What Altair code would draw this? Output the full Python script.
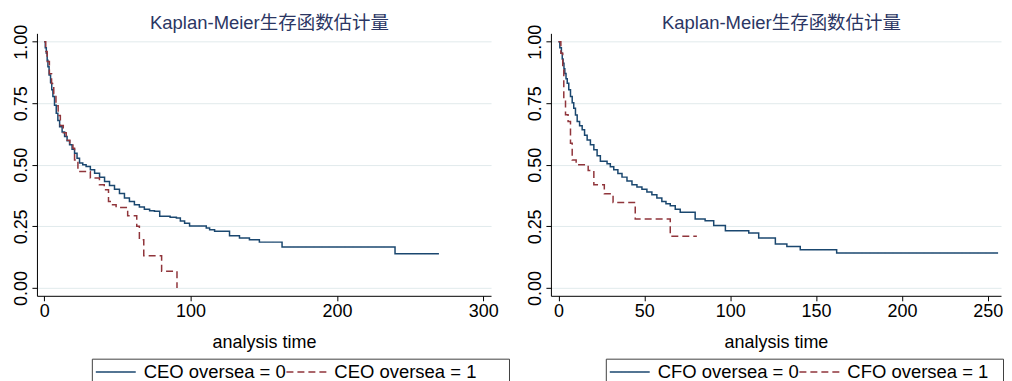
import altair as alt
import pandas as pd

# ---------------- data ----------------
TITLE = "Kaplan-Meier生存函数估计量"
X_TITLE = "analysis time"
Y_TICKS = [0.0, 0.25, 0.5, 0.75, 1.0]

left_labels = ["CEO oversea = 0", "CEO oversea = 1"]
right_labels = ["CFO oversea = 0", "CFO oversea = 1"]
left_xticks = [0, 100, 200, 300]
right_xticks = [0, 50, 100, 150, 200, 250]

# CEO oversea = 0
ceo0_t = [0, 0.7, 1.4, 2.0, 2.5, 3.3, 4.3, 5.1, 5.9, 7.0, 8.2, 9.3, 10.5, 12.2, 13.9,
          15.6, 17.3, 19.0, 20.7, 22.4, 24.1, 26.3, 28.6, 31.5, 34.4, 37.8, 41.2, 44.6,
          48.0, 51.4, 54.8, 58.2, 61.6, 65.0, 68.4, 72.0, 75.3, 78.9, 86.0, 90.3, 93.0,
          95.9, 99.3, 110.7, 113.0, 116.4, 126.6, 133.4, 140.2, 147.0, 162.5, 239.7, 269.7]
ceo0_s = [1.0, 0.975, 0.953, 0.925, 0.898, 0.865, 0.831, 0.805, 0.777, 0.742, 0.709, 0.680,
          0.655, 0.633, 0.615, 0.598, 0.581, 0.563, 0.547, 0.527, 0.507, 0.500, 0.493, 0.480,
          0.466, 0.449, 0.432, 0.416, 0.401, 0.383, 0.365, 0.351, 0.338, 0.329, 0.320, 0.313,
          0.311, 0.291, 0.287, 0.284, 0.272, 0.263, 0.251, 0.243, 0.236, 0.230, 0.212, 0.203,
          0.196, 0.186, 0.166, 0.139, 0.139]
# CEO oversea = 1
ceo1_t = [0, 1.0, 2.0, 3.5, 5.0, 6.5, 8.0, 9.5, 11.0, 13.0, 15.0, 17.5, 19.6, 20.7, 23.0,
          31.5, 37.7, 41.0, 43.9, 46.1, 49.1, 57.0, 63.2, 65.0, 68.0, 80.2, 90.7]
ceo1_s = [1.0, 0.960, 0.920, 0.870, 0.830, 0.790, 0.740, 0.700, 0.660, 0.630, 0.600, 0.580,
          0.567, 0.520, 0.473, 0.446, 0.419, 0.399, 0.351, 0.338, 0.327, 0.293, 0.250, 0.196,
          0.131, 0.068, 0.0]
# CFO oversea = 0
cfo0_t = [0, 0.8, 1.7, 2.2, 2.7, 3.2, 3.7, 4.4, 5.1, 6.0, 7.0, 8.0, 8.9, 9.9, 10.9, 12.3,
          13.8, 15.2, 16.7, 18.6, 20.6, 22.5, 24.4, 28.3, 30.2, 32.2, 34.6, 37.0, 39.9, 42.8,
          45.7, 48.6, 51.5, 54.4, 57.3, 60.2, 62.6, 65.1, 68.0, 70.9, 79.6, 85.4, 90.4, 97.2,
          110.8, 116.6, 126.3, 133.0, 140.8, 162.0, 256.0]
cfo0_s = [1.0, 0.975, 0.953, 0.930, 0.912, 0.890, 0.871, 0.850, 0.831, 0.805, 0.777, 0.752,
          0.730, 0.702, 0.676, 0.659, 0.642, 0.620, 0.601, 0.581, 0.561, 0.537, 0.514, 0.504,
          0.492, 0.480, 0.465, 0.450, 0.434, 0.419, 0.410, 0.401, 0.390, 0.378, 0.365, 0.351,
          0.342, 0.334, 0.320, 0.307, 0.280, 0.273, 0.254, 0.232, 0.223, 0.203, 0.178, 0.168,
          0.155, 0.142, 0.142]
# CFO oversea = 1
cfo1_t = [0, 1.4, 2.5, 3.1, 4.1, 5.6, 7.0, 8.0, 10.3, 17.3, 20.6, 26.7, 31.8, 44.7, 65.1, 80.6]
cfo1_s = [1.0, 0.953, 0.885, 0.770, 0.703, 0.676, 0.588, 0.520, 0.500, 0.477, 0.419, 0.382,
          0.347, 0.280, 0.210, 0.210]

# ---------------- styling ----------------
FONT = "Liberation Sans"
TITLE_FONT = "Liberation Sans, Noto Sans CJK SC"
BLUE = "#1a476f"
RED = "#90353b"
GRID = "#e1eaec"
# 40px sample line starting at the left edge of each legend entry (symbolSize 256)
LINE_SYMBOL = "M-1.15625,0L3.84375,0"


def frame(t, s, label):
    return pd.DataFrame({"time": t, "surv": s, "group": label})


def panel(df, labels, xdomain, xticks, width, right_gap):
    legend = alt.Legend(
        title="\u00a0", titleOrient="right", titleFontSize=1, titlePadding=right_gap,
        orient="none", legendX=55, legendY=326, direction="horizontal",
        symbolType=LINE_SYMBOL, symbolSize=256, symbolStrokeWidth=1.5,
        symbolFillColor="transparent",
        labelFont=FONT, labelFontSize=18.5, labelColor="black", labelOffset=29.5,
        labelLimit=500, columnPadding=-5, padding=4, strokeColor="#404040",
        fillColor="white",
    )
    return alt.Chart(df).mark_line(interpolate="step-after", strokeWidth=1.5, clip=True).encode(
        x=alt.X("time:Q",
                scale=alt.Scale(domain=xdomain, nice=False, zero=False),
                axis=alt.Axis(values=xticks, format="d", title=X_TITLE, grid=False,
                              labelFont=FONT, labelFontSize=18, labelColor="black",
                              labelPadding=2, labelFlush=False, tickSize=5,
                              tickColor="black", domainColor="black",
                              titleFont=FONT, titleFontSize=18, titleFontWeight="normal",
                              titleColor="black", titlePadding=13)),
        y=alt.Y("surv:Q",
                scale=alt.Scale(domain=[-0.032, 1.034], nice=False, zero=False),
                axis=alt.Axis(values=Y_TICKS, format=".2f", title=None, grid=True,
                              gridColor=GRID, gridWidth=1, labelAngle=270,
                              labelAlign="center", labelBaseline="alphabetic",
                              labelFont=FONT, labelFontSize=18, labelColor="black",
                              labelPadding=5, labelFlush=False, tickSize=5,
                              tickColor="black", domainColor="black")),
        color=alt.Color("group:N", scale=alt.Scale(domain=labels, range=[BLUE, RED]),
                        legend=legend),
        strokeDash=alt.StrokeDash("group:N",
                                  scale=alt.Scale(domain=labels, range=[[1, 0], [7, 4]]),
                                  legend=legend),
    ).properties(
        width=width, height=263,
        title=alt.TitleParams(text=TITLE, font=TITLE_FONT, fontSize=18.5,
                              fontWeight="normal", color="#2b3663", anchor="middle",
                              frame="group", offset=-8, dx=5.5),
    )


left_df = pd.concat([frame(ceo0_t, ceo0_s, left_labels[0]),
                     frame(ceo1_t, ceo1_s, left_labels[1])])
right_df = pd.concat([frame(cfo0_t, cfo0_s, right_labels[0]),
                      frame(cfo1_t, cfo1_s, right_labels[1])])

left = panel(left_df, left_labels, [-5, 305.3], left_xticks, 455, 29)
right = panel(right_df, right_labels, [-4.4, 257.7], right_xticks, 451, 11)

chart = alt.hconcat(left, right, spacing=60, bounds="flush").resolve_scale(
    x="independent", y="independent", color="independent", strokeDash="independent"
).resolve_legend(color="independent", strokeDash="independent").configure_view(
    stroke=None
).properties(
    padding={"left": 4, "top": 5, "right": 0, "bottom": 0}, background="white"
)

chart.save("out.html", embed_options={"renderer": "svg", "actions": False})
